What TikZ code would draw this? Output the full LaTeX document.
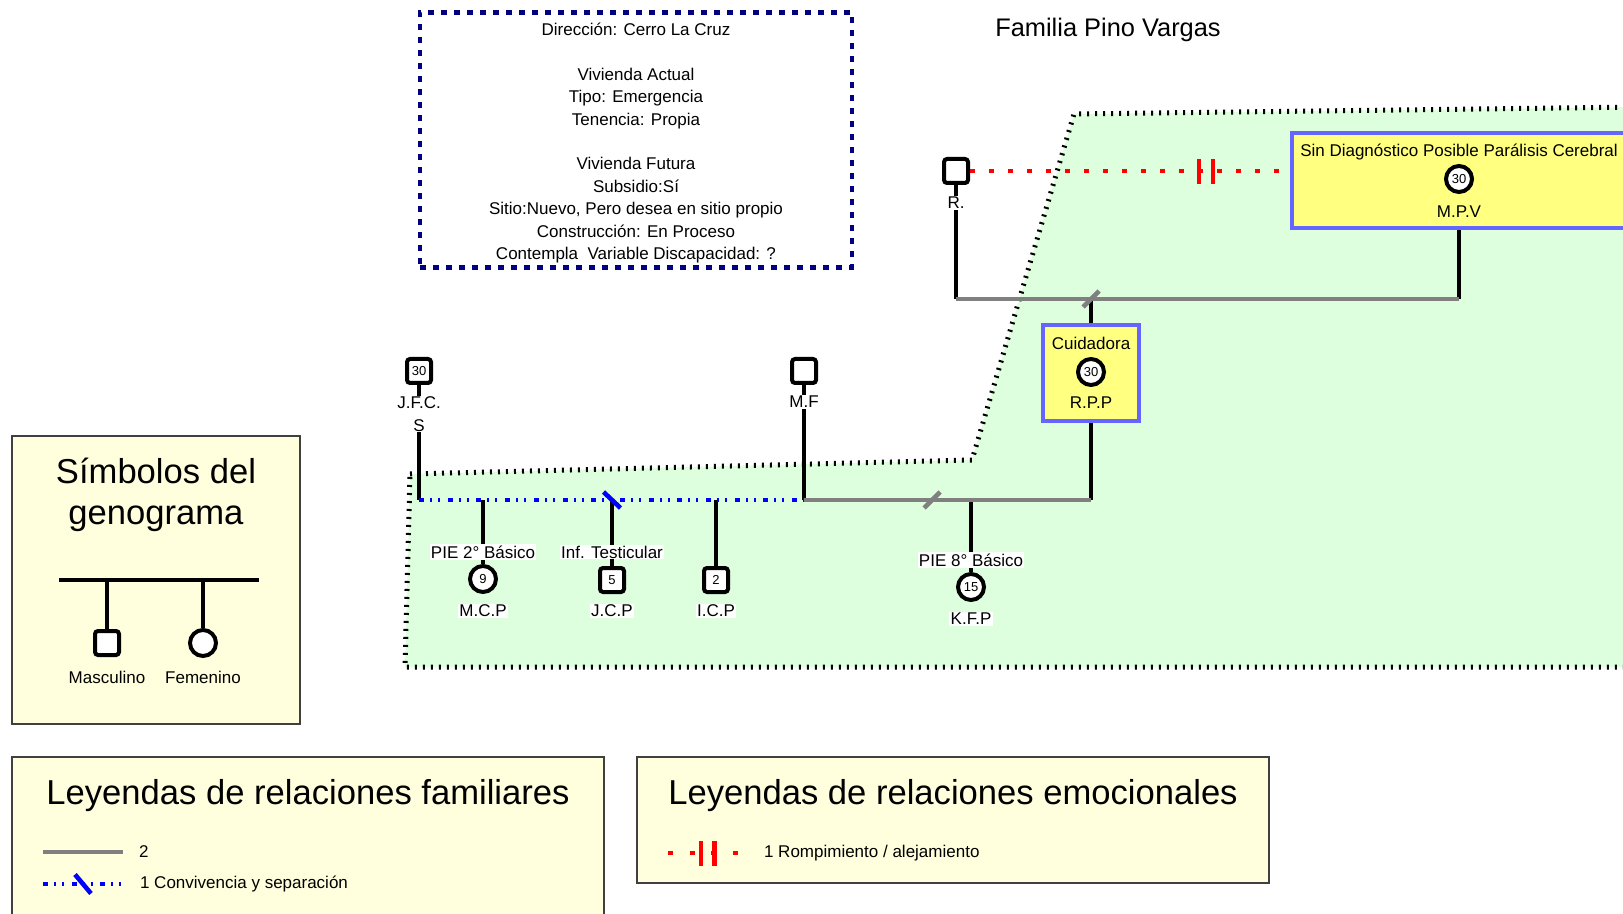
\documentclass[tikz,border=0pt]{standalone}
\usepackage{fontspec}
\setmainfont{Liberation Sans}
\usepackage{tikz}
\usetikzlibrary{positioning}
\usetikzlibrary{calc}

\definecolor{verdehogar}{RGB}{221,255,221}
\definecolor{amarilloley}{RGB}{255,255,221}
\definecolor{amarillocaja}{RGB}{255,255,128}
\definecolor{bordecaja}{RGB}{102,102,255}
\definecolor{marino}{RGB}{0,0,128}
\definecolor{grislazo}{RGB}{128,128,128}

\newcommand{\letra}{\fontsize{8.5}{11.2}\selectfont}
\newcommand{\cifra}{\fontsize{6.5}{7}\selectfont}
\newcommand{\titulo}{\fontsize{12.7}{15}\selectfont}
\newcommand{\grande}{\fontsize{17.3}{20.2}\selectfont}

\tikzset{
  varon/.style={draw, rectangle, rounded corners=1.5pt, line width=2pt,
    minimum size=12pt, inner sep=0pt, fill=white, font=\cifra},
  mujer/.style={draw, circle, line width=2pt,
    minimum size=13pt, inner sep=0pt, fill=white, font=\cifra},
  nombre/.style={fill=white, inner sep=0.6pt, font=\letra},
  lazo/.style={line width=2pt},
  union/.style={grislazo, line width=2pt},
  convive/.style={blue, line width=2pt,
    dash pattern=on 2.5pt off 3pt on 1pt off 3pt on 1pt off 3.85pt},
  ruptura/.style={red, line width=2pt, dash pattern=on 2.5pt off 7pt},
  barra/.style={red, line width=2.2pt},
  cortegris/.style={grislazo, line width=2.3pt},
  corteazul/.style={blue, line width=2.3pt},
  hogar/.style={fill=verdehogar, draw=black, line width=2.5pt,
    dash pattern=on 1pt off 3pt},
  destacado/.style={draw=bordecaja, line width=2pt, fill=amarillocaja},
  leyenda/.style={draw=black!75, line width=0.75pt, fill=amarilloley},
  vivienda/.style={draw=marino, line width=2.3pt, dash pattern=on 3pt off 3.5pt,
    inner sep=0pt}
}

\begin{document}
\begin{tikzpicture}[x=0.5pt,y=-0.5pt]

      \useasboundingbox (0,0) rectangle (1623,914);

      % zona de convivencia
      \path[hogar] (410,474) -- (972,460) -- (1074,114) -- (1640,107)
        -- (1640,667) -- (405,667) -- cycle;

      \node (datos) at (636,140) [vivienda, minimum width=216pt, minimum height=127.5pt] {};
      \node (datostxt) at ($(datos)+(0,3)$) [align=center, font=\letra] {
        Dirección: Cerro La Cruz\\[11.2pt]
        Vivienda Actual\\
        Tipo: Emergencia\\
        Tenencia: Propia\\[11.2pt]
        Vivienda Futura\\
        Subsidio:Sí\\
        Sitio:Nuevo, Pero desea en sitio propio\\
        Construcción: En Proceso\\
        Contempla\ \ Variable Discapacidad: ?};

      \node (familia) at (1108,30) [font=\titulo] {Familia Pino Vargas};

      \coordinate (hogarA) at (0,500);
      \coordinate (hogarB) at (0,299);

      \node (rppcaja) at (1091,373) [destacado, minimum width=48pt, minimum height=48pt] {};
      \node (mpvcaja) at (1459,180.5) [destacado, minimum width=167pt, minimum height=47.5pt] {};

      \node (jfc) at (419,371) [varon] {30};
      \node (mf)  at (804,371) [varon] {};
      \node (r)   at (956,171) [varon] {};
      \node (rpp) at (1091,372) [mujer] {30};
      \node (mpv) at (1459,179) [mujer] {30};
      \node (mcp) at (483,579) [mujer] {9};
      \node (jcp) at (612,580) [varon] {5};
      \node (icp) at (716,580) [varon] {2};
      \node (kfp) at (971,587) [mujer] {15};

      \draw[lazo] (jfc) -- (jfc |- hogarA);
      \draw[lazo] (mf) -- (mf |- hogarA);
      \draw[lazo] (rppcaja) -- (rppcaja |- hogarA);
      \draw[lazo] (rppcaja) -- (rppcaja |- hogarB);
      \draw[lazo] (r) -- (r |- hogarB);
      \draw[lazo] (mpvcaja) -- (mpvcaja |- hogarB);
      \draw[lazo] (mcp |- hogarA) -- (mcp);
      \draw[lazo] (jcp |- hogarA) -- (jcp);
      \draw[lazo] (icp |- hogarA) -- (icp);
      \draw[lazo] (kfp |- hogarA) -- (kfp);

      \draw[convive] (jfc |- hogarA) -- (mf |- hogarA);
      \draw[union] (mf |- hogarA) -- (rppcaja |- hogarA);
      \draw[union] (r |- hogarB) -- (mpvcaja |- hogarB);

      \coordinate (sep1) at (932,500);
      \draw[cortegris] (sep1) ++(-8,8) -- ++(16,-16);
      \draw[cortegris] (rppcaja |- hogarB) ++(-8,8) -- ++(16,-16);
      \draw[corteazul] (jcp |- hogarA) ++(-8.5,-8) -- ++(17,16);

      \draw[ruptura] (r.east) -- (r.east -| mpvcaja.west);
      \coordinate (quiebre) at (1206,172);
      \draw[barra] (quiebre) ++(-7,-12.5) -- ++(0,25);
      \draw[barra] (quiebre) ++(7,-12.5) -- ++(0,25);

      \node (jfcnom)  at (419,414) [nombre, align=center] {J.F.C.\\S};
      \node (mfnom)   at (804,402) [nombre] {M.F};
      \node (rnom)    at (956,203) [nombre] {R.};
      \node (mcpdato) at (483,552) [nombre] {PIE 2° Básico};
      \node (mcpnom)  at (483,611) [nombre] {M.C.P};
      \node (jcpdato) at (612,552) [nombre] {Inf. Testicular};
      \node (jcpnom)  at (612,611) [nombre] {J.C.P};
      \node (icpnom)  at (716,611) [nombre] {I.C.P};
      \node (kfpdato) at (971,560) [nombre] {PIE 8° Básico};
      \node (kfpnom)  at (971,619) [nombre] {K.F.P};
      \node (rppdato) at (1091,343) [font=\letra] {Cuidadora};
      \node (rppnom)  at (1091,403) [font=\letra] {R.P.P};
      \node (mpvdato) at (1459,152) [font=\letra] {Sin Diagnóstico Posible Parálisis Cerebral};
      \node (mpvnom)  at (1459,212) [font=\letra] {M.P.V};

      % simbolos
      \node (simbolos) at (156,580) [leyenda, minimum width=144pt, minimum height=144pt] {};
      \node (simbtit) at (156,495) [font=\grande, align=center] {Símbolos del\\genograma};
      \coordinate (ramaL) at (59,580);
      \coordinate (ramaR) at (259,580);
      \node (masc) at (107,643) [varon] {};
      \node (fem)  at (203,643) [mujer] {};
      \draw[lazo] (ramaL) -- (ramaR);
      \draw[lazo] (masc) -- (masc |- ramaL);
      \draw[lazo] (fem) -- (fem |- ramaL);
      \node (masctxt) at (107,677) [font=\letra] {Masculino};
      \node (femtxt)  at (203,677) [font=\letra] {Femenino};

      % leyendas
      \node (leyfam) at (308,845) [leyenda, minimum width=296pt, minimum height=88pt] {};
      \node (leyfamtit) at (308,796) [font=\grande] {Leyendas de relaciones familiares};
      \coordinate (grisA) at (43,852);
      \coordinate (grisB) at (123,852);
      \draw[union] (grisA) -- (grisB);
      \node (grisnota) [right=4.5pt of grisB, font=\letra] {2};
      \coordinate (azulA) at (43,884);
      \coordinate (azulB) at (124,884);
      \coordinate (azulC) at (83,884);
      \draw[convive] (azulA) -- (azulB);
      \draw[corteazul] (azulC) ++(-8,-9.5) -- ++(16,19);
      \node (azulnota) [right=4.5pt of azulB, font=\letra] {1 Convivencia y separación};

      \node (leyemo) at (953,820) [leyenda, minimum width=316pt, minimum height=63pt] {};
      \node (leyemotit) at (953,796) [font=\grande] {Leyendas de relaciones emocionales};
      \coordinate (rojoA) at (668,853);
      \coordinate (rojoB) at (739,853);
      \coordinate (rojoC) at (708,853);
      \draw[ruptura, dash pattern=on 2.5pt off 8.25pt] (rojoA) -- (rojoB);
      \draw[barra] (rojoC) ++(-7,-12.5) -- ++(0,25);
      \draw[barra] (rojoC) ++(6.5,-12.5) -- ++(0,25);
      \node (rojonota) [right=9pt of rojoB, font=\letra] {1 Rompimiento / alejamiento};

\end{tikzpicture}
\end{document}
